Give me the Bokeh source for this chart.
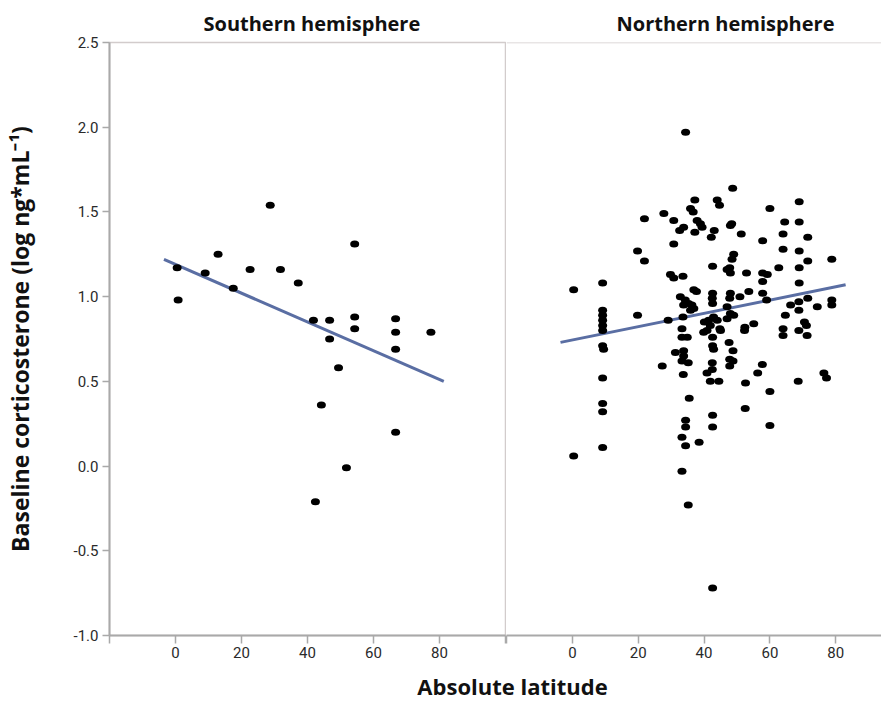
from bokeh.plotting import figure
from bokeh.models import ColumnDataSource, FixedTicker, PrintfTickFormatter, Span, Range1d
from bokeh.layouts import column, row
from bokeh.embed import file_html
from bokeh.resources import INLINE
from bokeh.core.properties import value

# ---------------- data ----------------
panel_titles = ["Southern hemisphere", "Northern hemisphere"]
x_label = "Absolute latitude"
y_label = "Baseline corticosterone (log ng*mL\u207b\u00b9)"

x_ticks = [-20, 0, 20, 40, 60, 80, 100]
x_tick_labels = ["", "0", "20", "40", "60", "80", ""]
y_ticks = [-1.0, -0.5, 0.0, 0.5, 1.0, 1.5, 2.0, 2.5]

south_lat = [0.5, 0.8, 9.0, 12.9, 17.5, 22.6, 28.7, 31.8, 37.2, 41.8, 46.7, 46.7,
             49.4, 44.2, 42.4, 51.8, 54.3, 54.3, 54.3, 66.7, 66.7, 66.7, 66.7, 77.4]
south_cort = [1.17, 0.98, 1.14, 1.25, 1.05, 1.16, 1.54, 1.16, 1.08, 0.86, 0.86, 0.75,
              0.58, 0.36, -0.21, -0.01, 1.31, 0.88, 0.81, 0.87, 0.79, 0.69, 0.20, 0.79]

north_lat = [34.4, 48.7, 37.2, 44.0, 44.7, 68.9, 60.0, 35.9, 36.7, 27.8, 21.9, 30.8,
             37.9, 38.9, 39.4, 64.5, 68.9, 33.8, 32.6, 37.2, 43.1, 42.2, 48.0, 48.4,
             51.3, 64.0, 71.5, 57.8, 30.8, 64.0, 68.9, 19.8, 21.9, 49.0, 48.5, 71.5,
             78.8, 42.6, 47.8, 47.0, 48.0, 62.7, 68.9, 52.9, 57.8, 59.2, 29.8, 30.8,
             33.6, 57.8, 68.9, 9.2, 0.4, 36.9, 37.7, 32.8, 34.3, 35.3, 36.3, 36.9,
             35.9, 42.6, 42.6, 48.0, 47.8, 50.9, 53.6, 57.8, 59.0, 66.3, 68.8, 68.8,
             71.5, 74.4, 78.8, 78.8, 9.2, 9.2, 9.2, 9.2, 9.2, 19.8, 29.1, 33.6,
             47.0, 48.0, 47.0, 40.1, 41.4, 42.9, 44.0, 40.9, 39.9, 44.8, 52.4, 55.1,
             64.0, 64.0, 68.8, 70.5, 71.1, 71.3, 33.3, 33.3, 34.9, 42.6, 42.6, 47.6,
             9.2, 9.5, 9.2, 9.2, 9.2, 9.2, 0.4, 31.3, 33.8, 33.8, 33.3, 35.2,
             27.3, 33.7, 35.5, 34.4, 34.4, 33.3, 34.4, 38.5, 33.3, 35.2, 42.9, 42.5,
             42.5, 40.9, 41.9, 44.5, 48.8, 47.8, 48.8, 47.8, 52.6, 52.5, 42.6, 42.6,
             57.7, 56.3, 60.0, 60.0, 68.6, 76.4, 77.2, 42.6, 45.0, 52.3, 64.7, 49.0,
             42.5, 41.9, 33.8]
north_cort = [1.97, 1.64, 1.57, 1.57, 1.54, 1.56, 1.52, 1.52, 1.50, 1.49, 1.46, 1.45,
              1.45, 1.43, 1.41, 1.44, 1.44, 1.41, 1.39, 1.38, 1.39, 1.35, 1.42, 1.43,
              1.37, 1.37, 1.35, 1.33, 1.31, 1.28, 1.27, 1.27, 1.21, 1.25, 1.22, 1.21,
              1.22, 1.18, 1.17, 1.16, 1.14, 1.17, 1.17, 1.14, 1.14, 1.13, 1.13, 1.11,
              1.12, 1.09, 1.08, 1.08, 1.04, 1.04, 1.03, 1.00, 0.98, 0.96, 0.95, 0.93,
              0.92, 1.02, 0.96, 1.02, 0.99, 1.00, 1.03, 1.02, 0.98, 0.95, 0.97, 0.92,
              0.99, 0.94, 0.98, 0.95, 0.92, 0.89, 0.86, 0.83, 0.80, 0.89, 0.86, 0.88,
              0.94, 0.90, 0.87, 0.85, 0.86, 0.88, 0.86, 0.80, 0.79, 0.81, 0.82, 0.84,
              0.81, 0.77, 0.80, 0.85, 0.83, 0.77, 0.81, 0.76, 0.76, 0.76, 0.71, 0.73,
              0.71, 0.69, 0.52, 0.37, 0.32, 0.11, 0.06, 0.67, 0.68, 0.65, 0.62, 0.61,
              0.59, 0.54, 0.40, 0.27, 0.23, 0.17, 0.12, 0.14, -0.03, -0.23, 0.69, 0.61,
              0.57, 0.55, 0.50, 0.50, 0.68, 0.63, 0.62, 0.59, 0.49, 0.34, 0.30, 0.23,
              0.60, 0.55, 0.44, 0.24, 0.50, 0.55, 0.52, -0.72, 0.80, 0.80, 0.89, 0.89,
              0.99, 0.83, 0.95]

south_fit_lat = [-3.5, 81.3]
south_fit_cort = [1.22, 0.50]
north_fit_lat = [-3.6, 83.0]
north_fit_cort = [0.73, 1.07]

# ---------------- style ----------------
AXIS_COLOR = "#a9a9a9"
DIVIDER = "#d2cccc"
TICK_TEXT = "#2a2a2a"
FIT_COLOR = "#5a6ea3"
BOLD_FONT = "Open Sans"
TICK_FONT = "Roboto"

FRAME_H = 593
TOP = 42
BOTTOM = 33


def style_x_axis(p):
    ax = p.xaxis[0]
    ax.ticker = FixedTicker(ticks=x_ticks)
    ax.major_label_overrides = {t: lab for t, lab in zip(x_ticks, x_tick_labels)}
    ax.minor_tick_line_color = None
    ax.major_tick_in = 0
    ax.major_tick_out = 8
    ax.major_tick_line_color = AXIS_COLOR
    ax.major_tick_line_width = 1.5
    ax.axis_line_color = AXIS_COLOR
    ax.axis_line_width = 2
    ax.major_label_text_font = TICK_FONT
    ax.major_label_text_font_size = "15px"
    ax.major_label_text_color = TICK_TEXT
    ax.major_label_standoff = 3


def style_common(p, title):
    p.title.text = title
    p.title.text_font = BOLD_FONT
    p.title.text_font_style = "bold"
    p.title.text_font_size = "20px"
    p.title.text_color = "#111111"
    p.title.align = "left"
    p.title.standoff = 12
    p.xgrid.grid_line_color = None
    p.ygrid.grid_line_color = None
    p.background_fill_color = "white"
    p.border_fill_color = "white"


# left panel
p1 = figure(frame_width=396, frame_height=FRAME_H,
            x_range=Range1d(-20, 100), y_range=Range1d(-1.0, 2.5),
            output_backend="svg", toolbar_location=None,
            min_border_left=100, min_border_right=1,
            min_border_top=TOP, min_border_bottom=BOTTOM)
style_common(p1, panel_titles[0])
p1.title.offset = 94
style_x_axis(p1)
p1.outline_line_color = DIVIDER
p1.outline_line_width = 1.5
ya = p1.yaxis[0]
ya.ticker = FixedTicker(ticks=y_ticks)
ya.formatter = PrintfTickFormatter(format="%.1f")
ya.minor_tick_line_color = None
ya.major_tick_in = 0
ya.major_tick_out = 7
ya.major_tick_line_color = AXIS_COLOR
ya.major_tick_line_width = 1.5
ya.axis_line_color = AXIS_COLOR
ya.axis_line_width = 2
ya.major_label_text_font = TICK_FONT
ya.major_label_text_font_size = "15px"
ya.major_label_text_color = TICK_TEXT
ya.major_label_standoff = 4
ya.axis_label = y_label
ya.axis_label_text_font = BOLD_FONT
ya.axis_label_text_font_style = "bold"
ya.axis_label_text_font_size = "23px"
ya.axis_label_text_color = "#111111"
ya.axis_label_standoff = 35

src_s = ColumnDataSource(dict(lat=south_lat, cort=south_cort))
p1.line(south_fit_lat, south_fit_cort, line_color=FIT_COLOR, line_width=3)
p1.ellipse(x="lat", y="cort", source=src_s, width=9, height=7,
           width_units="screen", height_units="screen",
           fill_color="black", line_color=None)

# right panel
p2 = figure(frame_width=375, frame_height=FRAME_H,
            x_range=Range1d(-20, 93.9), y_range=Range1d(-1.0, 2.5),
            y_axis_location=None,
            output_backend="svg", toolbar_location=None,
            min_border_left=0, min_border_right=0,
            min_border_top=TOP, min_border_bottom=BOTTOM)
style_common(p2, panel_titles[1])
p2.title.offset = 110
style_x_axis(p2)
p2.outline_line_color = None
p2.add_layout(Span(location=2.5, dimension="width", line_color=DIVIDER, line_width=1.5))

src_n = ColumnDataSource(dict(lat=north_lat, cort=north_cort))
p2.line(north_fit_lat, north_fit_cort, line_color=FIT_COLOR, line_width=3)
p2.ellipse(x="lat", y="cort", source=src_n, width=9, height=7,
           width_units="screen", height_units="screen",
           fill_color="black", line_color=None)

# x-axis label strip spanning both panels
p3 = figure(width=872, height=34, x_range=Range1d(0, 872), y_range=Range1d(0, 34),
            output_backend="svg", toolbar_location=None,
            min_border=0, min_border_left=0, min_border_right=0,
            min_border_top=0, min_border_bottom=0)
p3.axis.visible = False
p3.xgrid.grid_line_color = None
p3.ygrid.grid_line_color = None
p3.outline_line_color = None
p3.text(x=[512], y=[17], text=[x_label], text_font=value(BOLD_FONT),
        text_font_style="bold", text_font_size="22px", text_color="#111111",
        text_align="center", text_baseline="middle")

layout = column(row(p1, p2), p3)
open("out.html", "w").write(file_html(layout, INLINE))
